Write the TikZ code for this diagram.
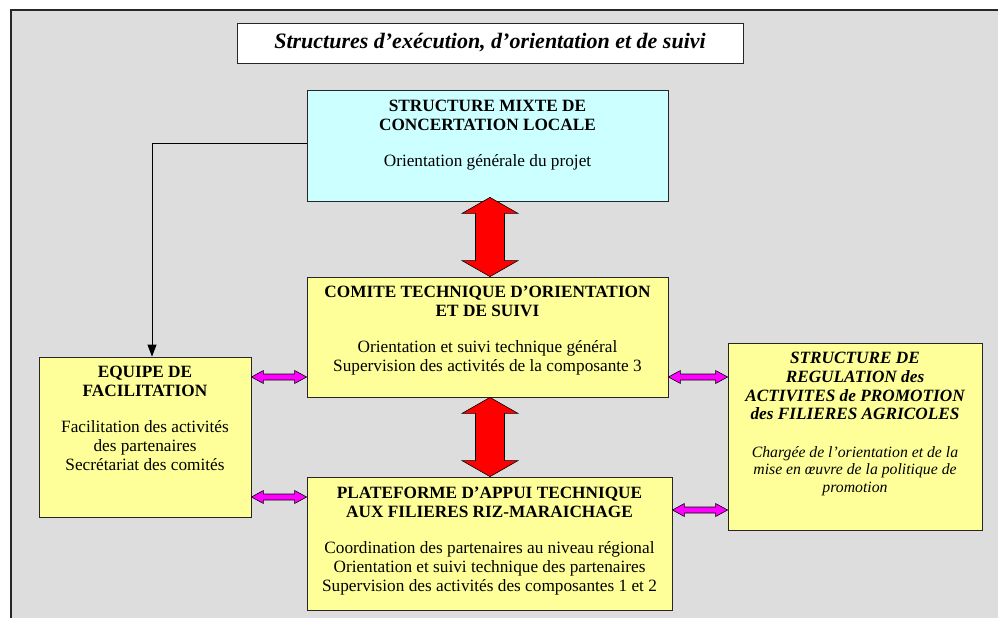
\documentclass[tikz,border=0pt]{standalone}
\usepackage{fontspec}
\setmainfont{Liberation Serif}
\usetikzlibrary{arrows.meta,calc}

\definecolor{panelgray}{HTML}{DDDDDD}
\definecolor{paleyellow}{HTML}{FFFF99}
\definecolor{palecyan}{HTML}{CCFFFF}
\definecolor{arrowred}{HTML}{FF0000}
\definecolor{arrowpink}{HTML}{FF00FF}

% vertical double block arrow between two points (top, bottom)
\newcommand\blockarrowV[3]{%
  \draw[#3] let \p1=(#1), \p2=(#2) in
    (\x1,\y1) -- (\x1+28pt,\y1-16pt) -- (\x1+14.5pt,\y1-16pt) -- (\x1+14.5pt,\y2+16pt)
    -- (\x1+28pt,\y2+16pt) -- (\x1,\y2) -- (\x1-28pt,\y2+16pt) -- (\x1-14.5pt,\y2+16pt)
    -- (\x1-14.5pt,\y1-16pt) -- (\x1-28pt,\y1-16pt) -- cycle;}
% horizontal double block arrow between two points (left, right)
\newcommand\blockarrowH[3]{%
  \draw[#3] let \p1=(#1), \p2=(#2) in
    (\x1,\y1) -- (\x1+12pt,\y1+6.5pt) -- (\x1+12pt,\y1+3pt) -- (\x2-12pt,\y1+3pt)
    -- (\x2-12pt,\y1+6.5pt) -- (\x2,\y1) -- (\x2-12pt,\y1-6.5pt) -- (\x2-12pt,\y1-3pt)
    -- (\x1+12pt,\y1-3pt) -- (\x1+12pt,\y1-6.5pt) -- cycle;}

\tikzset{
  unitbox/.style={draw=black!85, line width=0.8pt, inner sep=0pt, rectangle},
  yellowbox/.style={unitbox, fill=paleyellow},
  boxtext/.style={inner sep=0pt, align=center, anchor=north,
    font=\fontsize{17.25}{19}\selectfont},
  smalltext/.style={inner sep=0pt, align=center, anchor=north,
    font=\fontsize{15.75}{17.5}\selectfont\itshape},
  redarrow/.style={fill=arrowred, draw=black, line width=0.6pt, line join=miter},
  pinkarrow/.style={fill=arrowpink, draw=black, line width=0.6pt, line join=miter},
  feed/.style={draw=black, line width=0.8pt, -{Triangle[length=12pt,width=9pt]}}
}

\begin{document}
\begin{tikzpicture}[x=1pt, y=-1pt]
\useasboundingbox (0,0) rectangle (998,618);
% grey panel
\draw[fill=panelgray, draw=black!85, line width=1.2pt] (11,10) rectangle (1010,630);

% title
\node[unitbox, fill=white, minimum width=506pt, minimum height=40pt] (title) at (490,43)
  {\fontsize{22}{26}\selectfont\bfseries\itshape Structures d’exécution, d’orientation et de suivi};

% boxes
\node[unitbox, fill=palecyan, minimum width=361pt, minimum height=111pt] (smcl) at (487.5,145.5) {};
\node[yellowbox, minimum width=361pt, minimum height=120pt] (ctos) at (487.5,337) {};
\node[yellowbox, minimum width=365pt, minimum height=133pt] (pat) at (489.5,543.5) {};
\node[yellowbox, minimum width=212pt, minimum height=160pt] (eqf) at (145,437) {};
\node[yellowbox, minimum width=254pt, minimum height=187pt] (reg) at (855,436.5) {};

% box texts
\node[boxtext] (smcltxt) at ([yshift=-10.5pt]smcl.north)
  {\textbf{STRUCTURE MIXTE DE}\\\textbf{CONCERTATION LOCALE}\\[17pt]
   Orientation générale du projet};
\node[boxtext] (ctostxt) at ([yshift=-9.5pt]ctos.north)
  {\textbf{COMITE TECHNIQUE D’ORIENTATION}\\\textbf{ET DE SUIVI}\\[17pt]
   Orientation et suivi technique général\\
   Supervision des activités de la composante 3};
\node[boxtext] (pattxt) at ([yshift=-10.5pt]pat.north)
  {\textbf{PLATEFORME D’APPUI TECHNIQUE}\\\textbf{AUX FILIERES RIZ-MARAICHAGE}\\[17pt]
   Coordination des partenaires au niveau régional\\
   Orientation et suivi technique des partenaires\\
   Supervision des activités des composantes 1 et 2};
\node[boxtext] (eqftxt) at ([yshift=-9.5pt]eqf.north)
  {\textbf{EQUIPE DE}\\\textbf{FACILITATION}\\[17pt]
   Facilitation des activités\\des partenaires\\Secrétariat des comités};
\node[boxtext, font=\fontsize{17.25}{18.7}\selectfont\bfseries\itshape] (regtxt) at ([yshift=-9.5pt]reg.north)
  {STRUCTURE DE\\REGULATION des\\ACTIVITES de PROMOTION\\des FILIERES AGRICOLES};
\node[smalltext] (regbody) at ([yshift=-26pt]regtxt.south)
  {Chargée de l’orientation et de la\\mise en œuvre de la politique de\\promotion};

% feedback line from the local structure down to the facilitation team
\draw[feed] ([yshift=2.5pt]smcl.west) -| ([xshift=7pt]eqf.north);

% red block arrows
\blockarrowV{$([yshift=4pt]smcl.south)+(2.5,0)$}{ctos.north}{redarrow}
\blockarrowV{$(ctos.south)+(2.5,0)$}{pat.north}{redarrow}

% pink block arrows
\coordinate (c1) at ([yshift=-40pt]ctos.west);
\coordinate (c2) at ([yshift=46.5pt]pat.west);
\coordinate (c3) at ([yshift=-40pt]ctos.east);
\coordinate (c4) at ([yshift=33.5pt]pat.east);
\blockarrowH{eqf.east |- c1}{c1}{pinkarrow}
\blockarrowH{eqf.east |- c2}{c2}{pinkarrow}
\blockarrowH{c3}{reg.west |- c3}{pinkarrow}
\blockarrowH{c4}{reg.west |- c4}{pinkarrow}
\end{tikzpicture}
\end{document}
